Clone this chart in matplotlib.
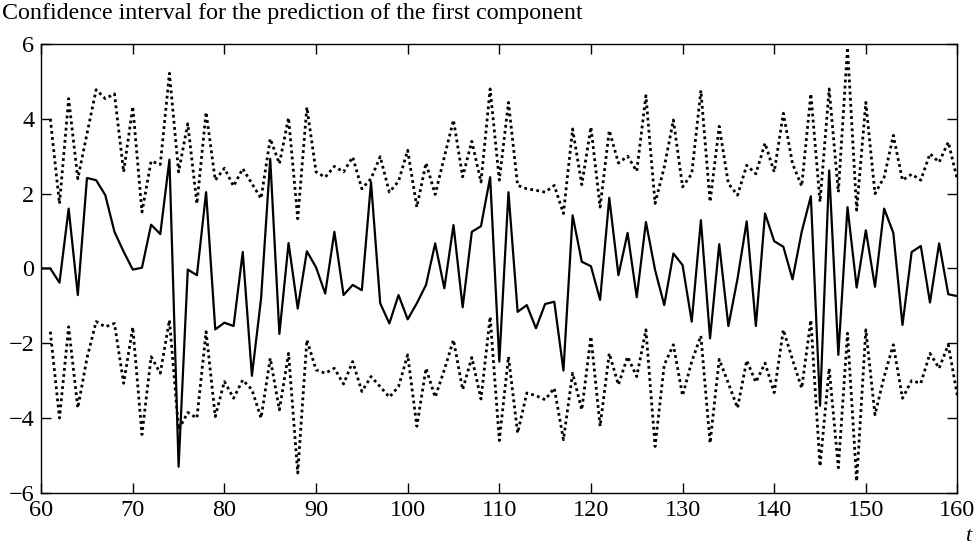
import numpy as np
import matplotlib
matplotlib.use("Agg")
import matplotlib.pyplot as plt

# prediction of the first component, t = 60..160
t_pred = np.arange(60, 161)
pred = [
    0.0, 0.0, -0.38, 1.6, -0.71, 2.42, 2.36, 1.96, 0.98, 0.45,
    -0.03, 0.02, 1.17, 0.92, 2.91, -5.3, -0.03, -0.18, 2.04, -1.63,
    -1.45, -1.54, 0.44, -2.87, -0.8, 2.93, -1.75, 0.68, -1.07, 0.46,
    0.03, -0.67, 0.98, -0.71, -0.44, -0.58, 2.31, -0.93, -1.47, -0.71,
    -1.36, -0.93, -0.44, 0.67, -0.53, 1.16, -1.04, 0.98, 1.13, 2.44,
    -2.49, 2.04, -1.16, -0.98, -1.6, -0.95, -0.89, -2.73, 1.42, 0.18,
    0.06, -0.84, 1.89, -0.18, 0.95, -0.77, 1.24, -0.04, -0.98, 0.4,
    0.09, -1.42, 1.29, -1.87, 0.65, -1.54, -0.27, 1.26, -1.54, 1.47,
    0.73, 0.58, -0.29, 0.98, 1.93, -3.67, 2.62, -2.31, 1.64, -0.51,
    1.02, -0.49, 1.6, 0.95, -1.51, 0.44, 0.6, -0.91, 0.67, -0.69,
    -0.74,
]

# confidence bounds, t = 61..160
t_ci = np.arange(61, 161)
upper = [
    4.0, 1.73, 4.54, 2.4, 3.6, 4.78, 4.54, 4.67, 2.58, 4.33,
    1.51, 2.87, 2.78, 5.22, 2.58, 3.87, 1.73, 4.18, 2.36, 2.68,
    2.2, 2.67, 2.27, 1.87, 3.47, 2.8, 4.03, 1.33, 4.31, 2.58,
    2.44, 2.73, 2.58, 2.98, 2.13, 2.4, 2.99, 2.04, 2.33, 3.16,
    1.64, 2.82, 1.98, 2.98, 3.97, 2.45, 3.4, 2.31, 4.8, 2.36,
    4.44, 2.22, 2.13, 2.09, 2.04, 2.22, 1.47, 3.73, 2.24, 3.78,
    1.64, 3.69, 2.82, 3.0, 2.6, 4.62, 1.74, 2.71, 3.97, 2.18,
    2.53, 4.76, 1.78, 3.8, 2.27, 1.96, 2.76, 2.53, 3.35, 2.58,
    4.15, 2.8, 2.2, 4.67, 1.78, 4.8, 2.04, 5.91, 1.56, 4.44,
    2.0, 2.44, 3.56, 2.36, 2.52, 2.36, 3.07, 2.84, 3.38, 2.36,
]
lower = [
    -1.69, -4.0, -1.56, -3.73, -2.4, -1.42, -1.56, -1.47, -3.07, -1.57,
    -4.44, -2.36, -2.8, -1.38, -4.31, -3.85, -4.0, -1.69, -3.96, -3.02,
    -3.47, -2.98, -3.24, -4.0, -2.4, -3.78, -2.27, -5.47, -1.91, -2.71,
    -2.8, -2.67, -3.09, -2.49, -3.29, -2.89, -3.16, -3.44, -3.16, -2.31,
    -4.22, -2.67, -3.44, -2.71, -1.91, -3.24, -2.38, -3.49, -1.29, -4.6,
    -2.36, -4.4, -3.33, -3.4, -3.51, -3.2, -4.58, -2.8, -3.78, -1.82,
    -4.22, -2.27, -3.11, -2.36, -2.89, -1.64, -4.76, -2.58, -2.04, -3.4,
    -2.49, -1.8, -4.67, -2.43, -3.07, -3.73, -2.46, -3.04, -2.53, -3.32,
    -1.64, -2.44, -3.2, -1.38, -5.29, -2.67, -5.33, -1.73, -5.69, -1.64,
    -3.91, -2.89, -2.04, -3.47, -3.0, -3.07, -2.27, -2.67, -2.04, -3.42,
]

x_ticks = list(range(60, 161, 10))
y_ticks = list(range(-6, 7, 2))

plt.rcParams.update({"font.family": ["Liberation Serif", "DejaVu Serif"],
                     "font.size": 17, "axes.unicode_minus": True})

fig = plt.figure(figsize=(9.8, 5.44), dpi=100)
ax = fig.add_axes([0.042, 0.094, 0.935, 0.825])

ax.plot(t_pred, pred, color="black", lw=1.6, zorder=3)
ax.plot(t_ci, upper, color="black", lw=2.0, ls=(0, (1, 1.2)), zorder=2)
ax.plot(t_ci, lower, color="black", lw=2.0, ls=(0, (1, 1.2)), zorder=2)

ax.set_xlim(60, 160)
ax.set_ylim(-6, 6)
ax.set_xticks(x_ticks)
ax.set_yticks(y_ticks)
ax.tick_params(direction="in", top=True, right=True, length=7, width=1,
               labelsize=17.5, pad=5)
for s in ax.spines.values():
    s.set_linewidth(1.0)

fig.text(0.002, 0.975, "Confidence interval for the prediction of the first component",
         ha="left", va="center", fontsize=17.3)
fig.text(0.988, 0.014, "t", ha="center", va="center", fontsize=16, style="italic")

fig.savefig("out.png", dpi=100)
